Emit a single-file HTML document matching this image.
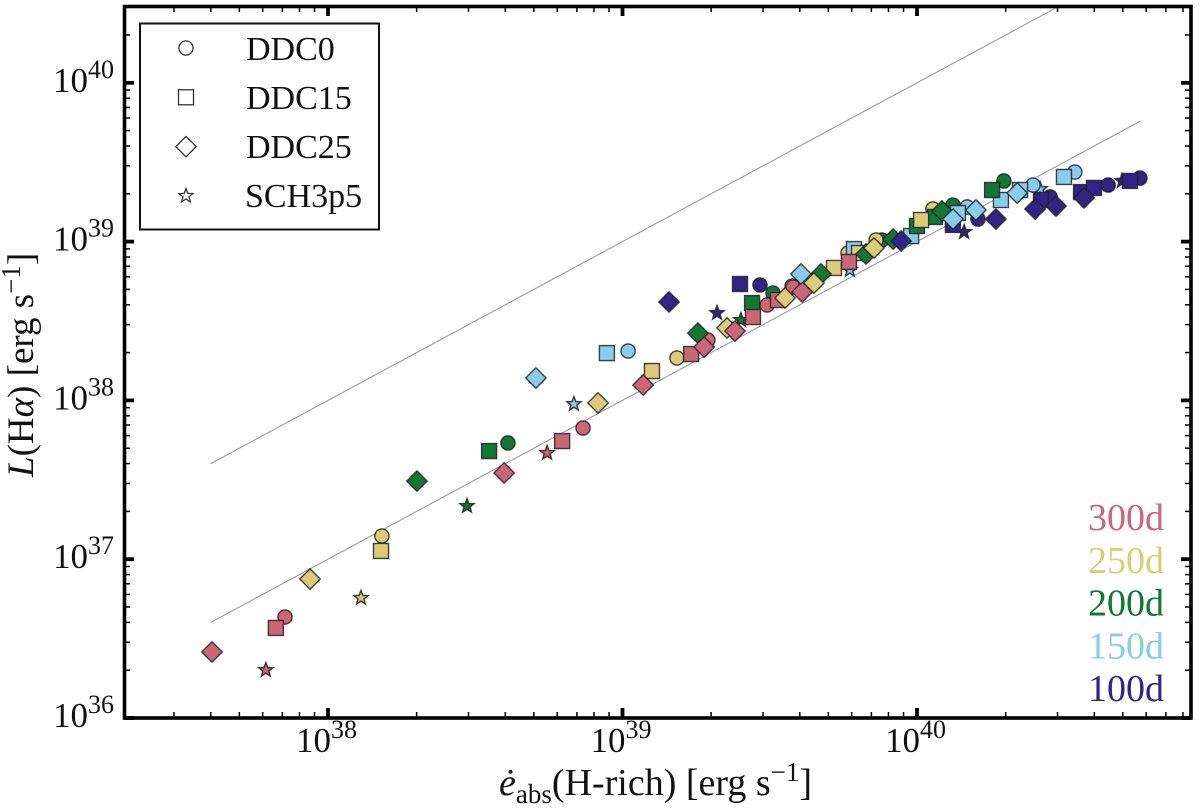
<!DOCTYPE html>
<html lang="en">
<head>
<meta charset="utf-8">
<title>L(Hα) versus absorbed power</title>
<style>
html,body{margin:0;padding:0;background:#fff;width:1200px;height:809px;overflow:hidden}
svg{display:block;filter:blur(0.35px)}
text{font-family:"Liberation Serif",serif;fill:#111}
</style>
</head>
<body>
<svg id="chart" xmlns="http://www.w3.org/2000/svg" width="1200" height="809" viewBox="0 0 1200 809">
  <g id="guides"></g>
  <g id="marks"></g>
  <g id="ticks"></g>
  <rect x="124.5" y="6.5" width="1066.5" height="711.5" fill="none" stroke="#000" stroke-width="3.6"/>
  <g id="ticklabels"></g>

  <g>
    <rect x="140" y="23.5" width="239" height="206" fill="#fff" stroke="#111" stroke-width="2"/>
    <g id="legend-markers"></g>
    <text x="246" y="60" font-size="34">DDC0</text>
    <text x="246" y="109" font-size="34">DDC15</text>
    <text x="246" y="158" font-size="34">DDC25</text>
    <text x="245" y="207" font-size="34">SCH3p5</text>
  </g>

  <g id="epochs"></g>

  <text x="499" y="795" font-size="38"><tspan font-style="italic">ė</tspan><tspan font-size="27" dy="8">abs</tspan><tspan dy="-8">(H-rich) [erg s</tspan><tspan font-size="27" dy="-14">−1</tspan><tspan dy="14">]</tspan></text>
  <text transform="translate(33,477) rotate(-90)" font-size="37"><tspan font-style="italic">L</tspan>(H<tspan font-style="italic">α</tspan>) [erg s<tspan font-size="27" dy="-13">−1</tspan><tspan dy="13">]</tspan></text>
</svg>

<script>
// Epoch categories and colours
const epochNames = ["100d", "150d", "200d", "250d", "300d"];
const epochColors = ["#332288", "#88ccee", "#117733", "#ddcc77", "#cc6677"];
const epochLabelsTopDown = ["300d", "250d", "200d", "150d", "100d"];

// Axis ticks (log10 of value)
const xMajorTicks = [38, 39, 40];
const yMajorTicks = [36, 37, 38, 39, 40];
const minorMultipliers = [2, 3, 4, 5, 6, 7, 8, 9];
const xDomainLog = [37.301, 40.934];
const yDomainLog = [36, 40.477];

// Reference lines: L = ratio * e_abs
const guideRatios = [1, 0.1];
const guideStartLog = 37.602;
const guideEndLog = [40.477, 40.757];

// DDC0-like models (circles); values are log10 of erg/s
const circleEpoch = ["100d","100d","100d","100d","100d","150d","150d","150d","150d","200d","200d","200d","200d","200d","250d","250d","250d","250d","250d","250d","300d","300d","300d","300d","300d"];
const circleLogE = [39.467,40.207,40.452,40.649,40.757,39.019,40.170,40.394,40.536,38.611,39.511,39.881,40.122,40.295,38.183,39.185,39.576,39.766,39.861,40.054,37.854,38.866,39.290,39.491,39.579];
const circleLogL = [38.727,39.142,39.281,39.356,39.400,38.311,39.218,39.356,39.438,37.732,38.676,39.010,39.230,39.382,37.146,38.267,38.720,38.928,39.010,39.205,36.636,37.826,38.380,38.601,38.714];

// DDC15-like models (squares)
const squareEpoch = ["100d","100d","100d","100d","100d","100d","150d","150d","150d","150d","150d","150d","150d","200d","200d","200d","200d","200d","250d","250d","250d","250d","250d","300d","300d","300d","300d","300d","300d"];
const squareLogE = [39.399,40.122,40.421,40.557,40.601,40.723,38.947,39.786,39.980,40.139,40.285,40.350,40.499,38.547,39.440,40.000,40.061,40.255,38.180,39.100,39.718,39.803,40.014,37.823,38.795,39.233,39.443,39.528,39.769];
const squareLogL = [38.733,39.105,39.262,39.312,39.338,39.382,38.298,38.953,39.035,39.180,39.262,39.325,39.407,37.681,38.613,39.098,39.155,39.325,37.052,38.185,38.834,38.928,39.136,36.567,37.744,38.292,38.525,38.632,38.872];

// DDC25-like models (diamonds)
const diamondEpoch = ["200d","200d","200d","200d","200d","200d","250d","250d","250d","250d","300d","300d","300d","300d","300d","300d","150d","250d","250d","150d","150d","150d","150d","100d","100d","100d","100d","100d","100d"];
const diamondLogE = [38.302,39.256,39.674,39.827,39.919,40.085,37.939,38.917,39.355,39.552,37.606,38.598,39.070,39.277,39.382,39.610,39.606,39.650,39.854,38.706,40.122,40.200,40.340,39.158,39.946,40.268,40.401,40.472,40.567];
const diamondLogL = [37.492,38.424,38.796,38.922,39.016,39.193,36.875,37.984,38.456,38.645,36.416,37.543,38.097,38.336,38.437,38.683,38.796,38.739,38.960,38.141,39.142,39.199,39.306,38.620,39.004,39.142,39.205,39.224,39.275];

// SCH3p5 model (stars)
const starEpoch = ["300d","300d","250d","200d","200d","150d","150d","150d","100d","100d","100d"];
const starLogE = [37.789,38.744,38.112,38.472,39.402,38.835,39.772,40.418,39.321,40.160,40.696];
const starLogL = [36.302,37.669,36.756,37.335,38.506,37.977,38.821,39.331,38.550,39.060,39.382];

// Axis functions
const X = function (v) { return 328 + (v - 38) * 294.5; };
const Y = function (v) { return 718 - (v - 36) * 158.8; };

const NS = "http://www.w3.org/2000/svg";
function mk(tag, attrs, parent) {
  const el = document.createElementNS(NS, tag);
  Object.keys(attrs).forEach(function (k) { el.setAttribute(k, attrs[k]); });
  parent.appendChild(el);
  return el;
}

function starPath(cx, cy, R) {
  const r = R * 0.42;
  let d = "";
  for (let i = 0; i < 10; i++) {
    const rad = i % 2 ? r : R;
    const a = -Math.PI / 2 + i * Math.PI / 5;
    d += (i ? "L" : "M") + (cx + rad * Math.cos(a)).toFixed(2) + " " + (cy + rad * Math.sin(a)).toFixed(2);
  }
  return d + "Z";
}

function drawMarker(kind, cx, cy, style, parent) {
  if (kind === "circle") return mk("circle", Object.assign({ cx: cx, cy: cy, r: 7.1 }, style), parent);
  if (kind === "square") return mk("rect", Object.assign({ x: cx - 7.5, y: cy - 7.5, width: 15, height: 15 }, style), parent);
  if (kind === "diamond") return mk("path", Object.assign({ d: "M" + cx + " " + (cy - 10.2) + "L" + (cx + 10.2) + " " + cy + "L" + cx + " " + (cy + 10.2) + "L" + (cx - 10.2) + " " + cy + "Z" }, style), parent);
  return mk("path", Object.assign({ d: starPath(cx, cy, 7.4) }, style), parent);
}

// Reference lines
const guidesG = document.getElementById("guides");
guideRatios.forEach(function (ratio, i) {
  const logR = Math.log10(ratio);
  const line = mk("line", { x1: X(guideStartLog), y1: Y(guideStartLog + logR), x2: X(guideEndLog[i]), y2: Y(guideEndLog[i] + logR), stroke: "#9a9a9a", "stroke-width": 1.1 }, guidesG);
  
  
});

// Data marks
const marksG = document.getElementById("marks");
function drawSeries(kind, epochs, xs, ys, strokeW) {
  xs.forEach(function (v, i) {
    const color = epochColors[epochNames.indexOf(epochs[i])];
    const m = drawMarker(kind, X(v), Y(ys[i]), { fill: color, stroke: "#222", "stroke-opacity": 0.85, "stroke-width": strokeW, "stroke-linejoin": "miter" }, marksG);
    
    
  });
}
drawSeries("star", starEpoch, starLogE, starLogL, 1.5);
drawSeries("circle", circleEpoch, circleLogE, circleLogL, 1.4);
drawSeries("square", squareEpoch, squareLogE, squareLogL, 1.4);
drawSeries("diamond", diamondEpoch, diamondLogE, diamondLogL, 1.4);

// Ticks
const ticksG = document.getElementById("ticks");
const frame = { l: 124, r: 1191, t: 6, b: 718 };
function tick(x1, y1, x2, y2, w) {
  const t = mk("line", { x1: x1, y1: y1, x2: x2, y2: y2, stroke: "#000", "stroke-width": w }, ticksG);
  
  
}
function xTick(px, len, w) {
  tick(px, frame.b, px, frame.b - len, w);
  tick(px, frame.t, px, frame.t + len, w);
}
function yTick(py, len, w) {
  tick(frame.l, py, frame.l + len, py, w);
  tick(frame.r, py, frame.r - len, py, w);
}
[37].concat(xMajorTicks).forEach(function (d) {
  minorMultipliers.forEach(function (m) {
    const v = d + Math.log10(m);
    if (v > xDomainLog[0] + 0.01 && v < xDomainLog[1]) xTick(X(v), 6, 1.5);
  });
});
xMajorTicks.forEach(function (d) { xTick(X(d), 10, 3.8); });
yMajorTicks.forEach(function (d) {
  minorMultipliers.forEach(function (m) {
    const v = d + Math.log10(m);
    if (v < yDomainLog[1] - 0.01) yTick(Y(v), 6, 1.5);
  });
  yTick(Y(d), 10, 3.8);
});

// Tick labels
const labelsG = document.getElementById("ticklabels");
function powerLabel(x, y, exp, name) {
  const t = mk("text", { x: x, y: y, "font-size": 35 }, labelsG);
  
  
  const base = mk("tspan", {}, t);
  base.textContent = "10";
  const sup = mk("tspan", { "font-size": 26, dy: -14 }, t);
  sup.textContent = String(exp);
}
xMajorTicks.forEach(function (d) { powerLabel(X(d) - 32, 752, d, "x-tick-label"); });
yMajorTicks.forEach(function (d) { powerLabel(53, Y(d) + 9, d, "y-tick-label"); });

// Legend markers
const legendKinds = ["circle", "square", "diamond", "star"];
const legendG = document.getElementById("legend-markers");
legendKinds.forEach(function (k, i) {
  const m = drawMarker(k, 186, 48 + i * 49.3, { fill: "#fff", stroke: "#333", "stroke-width": 1.3 }, legendG);
  
  
});

// Epoch colour key
const epochsG = document.getElementById("epochs");
epochLabelsTopDown.forEach(function (name, i) {
  const t = mk("text", { x: 1164, y: 530 + i * 42.8, "font-size": 38, "text-anchor": "end" }, epochsG);
  t.style.fill = epochColors[epochNames.indexOf(name)];
  t.textContent = name;
  
  
});
</script>
</body>
</html>
